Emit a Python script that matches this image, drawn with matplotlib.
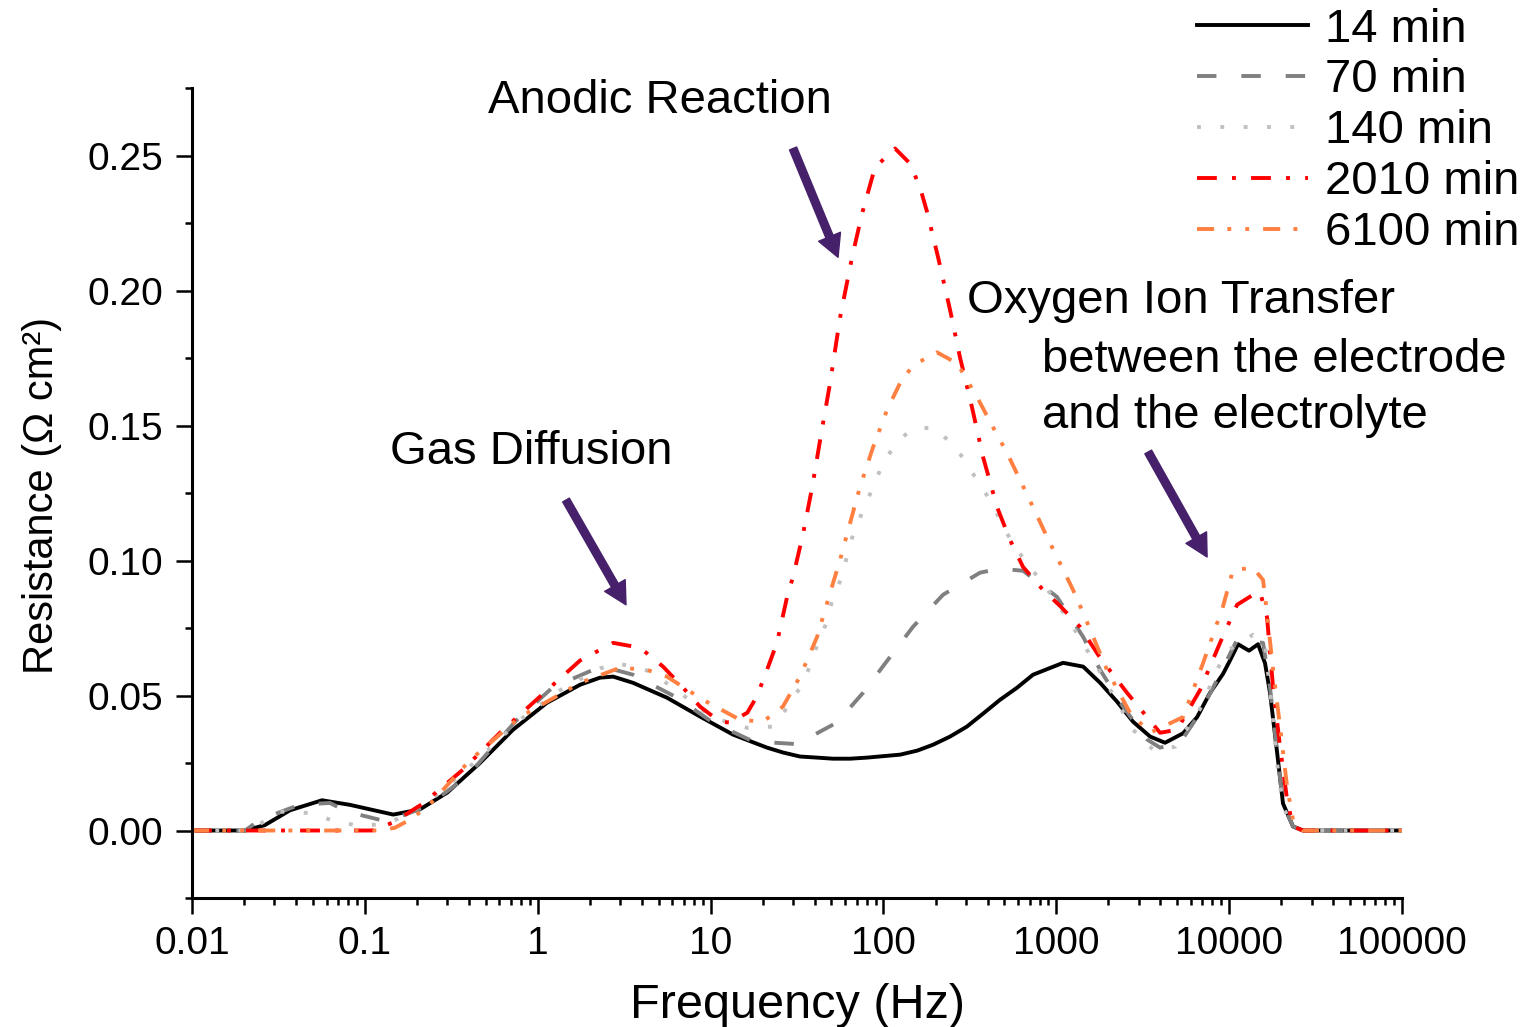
import numpy as np
import matplotlib.pyplot as plt
from matplotlib.ticker import LogLocator, FixedLocator, FuncFormatter, MultipleLocator, NullFormatter

plt.rcParams['font.family'] = ['Liberation Sans', 'DejaVu Sans']

# ---- data (frequency in Hz, resistance in ohm cm2) ----
freq_14 = [0.01, 0.0203, 0.0264, 0.0369, 0.0565, 0.082, 0.146, 0.208, 0.299, 0.463,
           0.719, 1.13, 1.76, 2.29, 2.73, 3.56, 5.59, 8.69, 13.5, 21.2, 26.2, 32.9, 41.3,
           51, 64.1, 80.3, 125, 157, 194, 243, 304, 377, 472, 593, 733, 1094, 1430, 1792,
           2246, 2778, 3486, 4254, 5410, 6520, 7750, 9210, 10110, 11250, 13020, 14690,
           16110, 17220, 18920, 20480, 23390, 26720, 100000]
res_14 = [0, 0, 0.002, 0.0075, 0.0112, 0.0095, 0.0059, 0.0078, 0.014, 0.025,
          0.0373, 0.0473, 0.054, 0.0566, 0.057, 0.0547, 0.0492, 0.0422, 0.0355, 0.0307, 0.0289, 0.0274, 0.027,
          0.0266, 0.0266, 0.027, 0.0281, 0.0296, 0.0318, 0.0348, 0.0385, 0.0433, 0.0484, 0.0529, 0.0577, 0.0621, 0.0607, 0.0547,
          0.0477, 0.0403, 0.0348, 0.0325, 0.036, 0.042, 0.051, 0.058, 0.063, 0.069, 0.0666, 0.069,
          0.062, 0.051, 0.029, 0.010, 0.0015, 0, 0]

freq_70 = [0.01, 0.0203, 0.0247, 0.0422, 0.0628, 0.0789, 0.134, 0.229, 0.39, 0.551,
           0.758, 1.22, 2.09, 2.62, 3.56, 6.40, 10.3, 17.6, 31.6, 53.8, 76.2, 106, 148,
           221, 362, 472, 642, 1009, 1430, 1792, 2432, 3350, 3981, 5200, 6780, 8510,
           11100, 15700, 17220, 18920, 20480, 23390, 26720, 100000]
res_70 = [0, 0, 0.004, 0.0096, 0.0102, 0.007, 0.0033, 0.009, 0.020, 0.031,
          0.041, 0.053, 0.0595, 0.060, 0.0577, 0.0492, 0.040, 0.033, 0.032, 0.040, 0.051, 0.0632, 0.0754,
          0.0873, 0.0955, 0.097, 0.0962, 0.0865, 0.0717, 0.0595, 0.0459, 0.0337, 0.0307, 0.0325, 0.0436, 0.0558,
          0.0706, 0.0695, 0.053, 0.029, 0.010, 0.0015, 0, 0]

freq_140 = [0.01, 0.0203, 0.0241, 0.0323, 0.0469, 0.0671, 0.0962, 0.14, 0.175, 0.272,
            0.463, 0.789, 1.35, 2.29, 2.88, 4.46, 6.65, 10.3, 16.3, 23, 27.7, 32.9, 37.5,
            41.8, 47.1, 51, 57.6, 64.1, 76.2, 87.1, 99.4, 116.7, 142.6, 193.6, 243, 296,
            352, 425, 492, 593, 705, 918, 1250, 1720, 2778, 3620, 4860, 6780, 9460,
            13740, 16110, 17700, 18920, 20480, 23390, 26720, 100000]
res_140 = [0, 0, 0.002, 0.007, 0.0065, 0.0035, 0.0015, 0.003, 0.006, 0.014,
           0.027, 0.041, 0.052, 0.060, 0.062, 0.059, 0.051, 0.0418, 0.038, 0.0385, 0.0455, 0.0529, 0.0607,
           0.0695, 0.0773, 0.0865, 0.094, 0.1065, 0.1187, 0.1272, 0.1361, 0.1428, 0.1483, 0.1494, 0.1439, 0.1372,
           0.1291, 0.1213, 0.1124, 0.1039, 0.0976, 0.088, 0.0754, 0.0607, 0.0373, 0.030, 0.031, 0.045, 0.066,
           0.0725, 0.069, 0.045, 0.025, 0.009, 0.001, 0, 0]

freq_2010 = [0.01, 0.11, 0.146, 0.217, 0.37, 0.605, 1.03, 1.76, 2.73, 3.91, 5.31, 6.84,
             8.69, 11.3, 12.9, 16.3, 18.5, 21.2, 24.2, 27.7, 30.0, 34.3, 38.7, 43.0, 49.1,
             56.1, 65.8, 75.2, 89.3, 116.7, 142.6, 163, 179, 207, 243, 277, 325, 377, 454,
             540, 642, 838, 1050, 1371, 1792, 2565, 3981, 4990, 6780, 8850, 11100, 13740,
             15070, 16550, 17940, 19690, 21610, 23390, 26720, 100000]
res_2010 = [0, 0, 0.003, 0.010, 0.0226, 0.0362, 0.0496, 0.063, 0.0695, 0.0677, 0.0607, 0.0533,
            0.0459, 0.0403, 0.040, 0.0436, 0.0496, 0.0595, 0.0695, 0.0865, 0.094, 0.110, 0.1272, 0.1446, 0.1657,
            0.190, 0.2123, 0.2285, 0.2456, 0.2526, 0.247, 0.238, 0.229, 0.2123, 0.1927, 0.1753, 0.1568, 0.1383, 0.1198,
            0.1076, 0.0976, 0.0891, 0.0832, 0.0754, 0.064, 0.051, 0.0362, 0.0373, 0.052, 0.0695, 0.0836, 0.0873,
            0.0884, 0.079, 0.053, 0.031, 0.0115, 0.0015, 0, 0]

freq_6100 = [0.01, 0.122, 0.149, 0.182, 0.232, 0.405, 0.789, 1.76, 2.99, 4.29, 5.59,
             9.04, 14.8, 20.1, 26.2, 32.9, 41.3, 49.1, 56.1, 64.1, 73.1, 87.1, 104.8, 124.7,
             148.3, 204, 267, 348, 430, 519, 617, 733, 884, 1050, 1250, 1430, 1963, 2667,
             3486, 5410, 7060, 9210, 10520, 13740, 15700, 16550, 17940, 19690, 21610,
             23390, 26720, 100000]
res_6100 = [0, 0, 0.001, 0.004, 0.009, 0.026, 0.042, 0.0547, 0.0603, 0.0595, 0.057,
            0.0484, 0.041, 0.0403, 0.0459, 0.057, 0.0717, 0.088, 0.1002, 0.1139, 0.1272, 0.142, 0.1557, 0.1657,
            0.1723, 0.1771, 0.173, 0.1605, 0.1494, 0.1398, 0.1298, 0.1198, 0.1087, 0.099, 0.0891, 0.0806, 0.0595, 0.0436,
            0.0362, 0.042, 0.062, 0.083, 0.0965, 0.0973, 0.0928, 0.0806, 0.0595, 0.0385, 0.0163,
            0.004, 0, 0]

labels = ['14 min', '70 min', '140 min', '2010 min', '6100 min']
colors = ['#000000', '#808080', '#C0C0C0', '#FF0000', '#FF8040']
styles = ['-', (0, (5, 6.4)), (0, (1, 5)), (0, (5.1, 3.9, 1, 3.9)),
          (0, (4.4, 3.4, 1, 3.6, 1, 3.6))]

x_ticks = [0.01, 0.1, 1, 10, 100, 1000, 10000, 100000]

# annotation texts: (label, x in Hz, y baseline)
notes = [('Anodic Reaction', 0.516, 0.2659),
         ('Gas Diffusion', 0.1396, 0.1357),
         ('Oxygen Ion Transfer', 304, 0.1916),
         ('between the electrode', 821, 0.1697),
         ('and the electrolyte', 821, 0.149)]
# arrows: (tail, tip)
arrows = [((1.457, 0.1224), (3.24, 0.0836)),
          ((30.0, 0.2526), (54.6, 0.2123)),
          ((3400, 0.1402), (7450, 0.1013))]
arrow_colour = '#46206A'

fig = plt.figure(figsize=(15.36, 10.27), dpi=100)
ax = fig.add_axes([0.125, 0.1256, 0.7878, 0.7887])

series = [(freq_14, res_14), (freq_70, res_70), (freq_140, res_140),
          (freq_2010, res_2010), (freq_6100, res_6100)]
for (f, r), lab, c, ls in zip(series, labels, colors, styles):
    ax.plot(f, r, color=c, linestyle=ls, linewidth=2.8, label=lab,
            solid_joinstyle='round', dash_joinstyle='round')

ax.set_xscale('log')
ax.set_xlim(0.01, 100000)
ax.set_ylim(-0.025, 0.275)

ax.xaxis.set_major_locator(FixedLocator(x_ticks))
ax.xaxis.set_minor_locator(LogLocator(base=10, subs=np.arange(2, 10), numticks=100))
ax.xaxis.set_major_formatter(FuncFormatter(lambda v, p: '%g' % v))
ax.xaxis.set_minor_formatter(NullFormatter())
ax.yaxis.set_major_locator(FixedLocator([0, 0.05, 0.10, 0.15, 0.20, 0.25]))
ax.yaxis.set_minor_locator(MultipleLocator(0.025))
ax.yaxis.set_major_formatter(FuncFormatter(lambda v, p: '%.2f' % v))

for s in ['top', 'right']:
    ax.spines[s].set_visible(False)
for s in ['left', 'bottom']:
    ax.spines[s].set_linewidth(2.2)

ax.tick_params(which='major', direction='out', length=11.5, width=1.8, labelsize=28, pad=9)
ax.tick_params(which='minor', direction='out', length=5, width=1.8)

fig.text(797 / 1536, 1 - 1018 / 1027, 'Frequency (Hz)', ha='center', va='baseline', fontsize=35)
fig.text(42 / 1536, 1 - 495 / 1027, 'Resistance (Ω cm²)', ha='center', va='center',
         rotation=90, fontsize=30)

for txt, x, y in notes:
    ax.text(x, y, txt, ha='left', va='baseline', fontsize=34)

for tail, tip in arrows:
    ax.annotate('', xy=tip, xytext=tail,
                arrowprops=dict(arrowstyle='simple,head_length=16,head_width=17,tail_width=5.5',
                                color=arrow_colour, shrinkA=0, shrinkB=0, mutation_scale=1))

ax.legend(loc='upper left', bbox_to_anchor=(1197 / 1536, 1 - 7.5 / 1027), bbox_transform=fig.transFigure,
          frameon=False, fontsize=34, borderpad=0, borderaxespad=0, labelspacing=0.146,
          handlelength=2.35, handletextpad=0.36)

fig.savefig('out.png', dpi=100)
